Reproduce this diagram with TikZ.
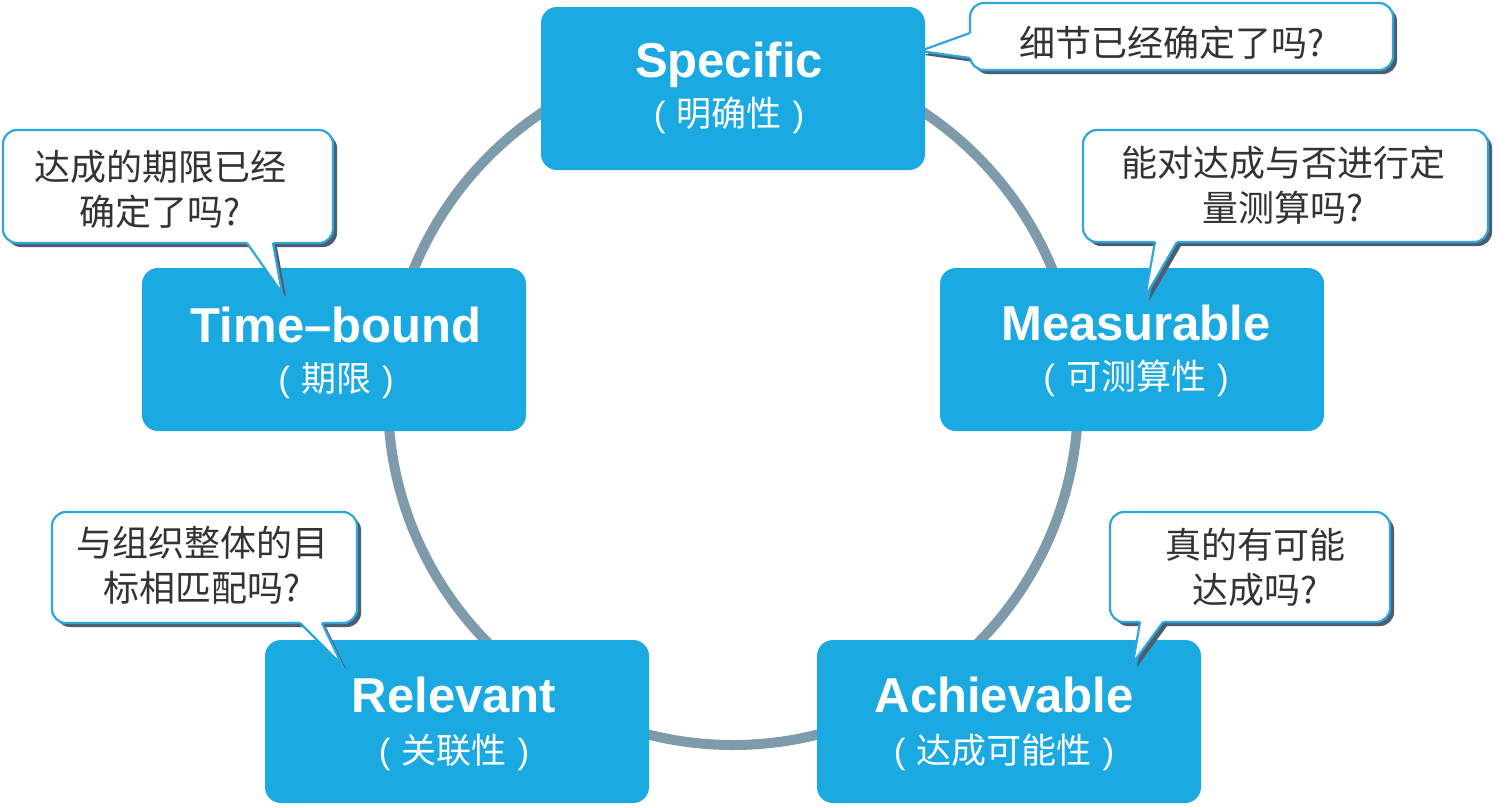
\documentclass[tikz,border=0pt]{standalone}
\usepackage{fontspec}
\setmainfont{Liberation Sans}
\newfontfamily\cjk{Noto Sans CJK SC}
\newfontfamily\lat{Liberation Sans}
\definecolor{boxblue}{HTML}{1BA9E2}
\definecolor{bubbleblue}{HTML}{2FA6DB}
\definecolor{shadowc}{HTML}{4B5D6E}
\definecolor{ringc}{HTML}{7E9BAC}
\definecolor{textgray}{HTML}{333333}
\newcommand{\subtext}[1]{{\lat(}\hspace{11pt}#1\hspace{11pt}{\lat)}}
\tikzset{
  goal/.style={fill=boxblue, rounded corners=16pt, minimum width=384pt, minimum height=163pt, inner sep=0pt},
  bubble/.style={fill=white, draw=bubbleblue, line width=2.2pt, rounded corners=14pt, inner sep=0pt},
  bshadow/.style={fill=shadowc, rounded corners=14pt},
  tailshadow/.style={fill=shadowc},
  tailfill/.style={fill=white},
  tailline/.style={draw=bubbleblue, line width=2.2pt, line join=miter},
  bubbletext/.style={text=textgray, font=\cjk\fontsize{36}{45}\selectfont, align=center, inner sep=0pt},
  ttl/.style={text=white, font=\bfseries\fontsize{49}{56}\selectfont, anchor=base, inner sep=0pt},
  sub/.style={text=white, font=\cjk\fontsize{35}{40}\selectfont, anchor=base, inner sep=0pt},
  ring/.style={draw=ringc, line width=10pt},
}
\begin{document}
\begin{tikzpicture}[x=1pt,y=-1pt]
\useasboundingbox (0,0) rectangle (1506,807);
\fill[white] (0,0) rectangle (1506,807);
% ring
\node[circle, minimum size=690pt, inner sep=0pt, ring] (ringc) at (733,400) {};
% goal boxes
\node[goal] (S) at (733,88.5) {};
\node[goal] (T) at (334,349.5) {};
\node[goal] (M) at (1132,349.5) {};
\node[goal] (R) at (457,721.5) {};
\node[goal] (A) at (1009,721.5) {};
\node[ttl] (St) at (729,77) {Specific};
\node[sub] (Ss) at (729,126) {\subtext{明确性}};
\node[ttl] (Tt) at (336,342) {Time–bound};
\node[sub] (Ts) at (336,391) {\subtext{期限}};
\node[ttl] (Mt) at (1136,340) {Measurable};
\node[sub] (Ms) at (1136,389) {\subtext{可测算性}};
\node[ttl] (Rt) at (454,712) {Relevant};
\node[sub] (Rs) at (454,763) {\subtext{关联性}};
\node[ttl] (At) at (1004,712) {Achievable};
\node[sub] (As) at (1004,763) {\subtext{达成可能性}};

% callout 1 (Specific)
\coordinate (p1a) at (970,33); \coordinate (p1b) at (970,58); \coordinate (p1t) at (920,51);
\fill[tailshadow] (974,37) -- (924,55) -- (974,62) -- cycle;
\fill[bshadow] (974,7) rectangle (1397,74);
\node[bubble, minimum width=423pt, minimum height=67pt] (c1) at (1181.5,36.5) {};
\fill[tailfill] (975,33) -- (p1a) -- (p1t) -- (p1b) -- (975,58) -- cycle;
\draw[tailline] (p1a) -- (p1t) -- (p1b);
\node[bubbletext] (c1t) at (1172,43) {细节已经确定了吗?};

% callout 2 (Time-bound)
\coordinate (p2a) at (247,243); \coordinate (p2b) at (273,243); \coordinate (p2t) at (282,293);
\fill[tailshadow] (251,247) -- (286,297) -- (277,247) -- cycle;
\fill[bshadow] (7,134) rectangle (337,247);
\node[bubble, minimum width=330pt, minimum height=113pt] (c2) at (168,186.5) {};
\fill[tailfill] (247,238) -- (p2a) -- (p2t) -- (p2b) -- (273,238) -- cycle;
\draw[tailline] (p2a) -- (p2t) -- (p2b);
\node[bubbletext] (c2t) at (160,189) {达成的期限已经\\确定了吗?};

% callout 3 (Measurable)
\coordinate (p3a) at (1155,242); \coordinate (p3b) at (1177,242); \coordinate (p3t) at (1145,297);
\fill[tailshadow] (1159,246) -- (1149,301) -- (1181,246) -- cycle;
\fill[bshadow] (1087,134) rectangle (1492,246);
\node[bubble, minimum width=405pt, minimum height=112pt] (c3) at (1285.5,186) {};
\fill[tailfill] (1155,237) -- (p3a) -- (p3t) -- (p3b) -- (1177,237) -- cycle;
\draw[tailline] (p3a) -- (p3t) -- (p3b);
\node[bubbletext] (c3t) at (1283,185) {能对达成与否进行定\\量测算吗?};

% callout 4 (Relevant)
\coordinate (p4a) at (300,623); \coordinate (p4b) at (322,623); \coordinate (p4t) at (342,665);
\fill[tailshadow] (304,627) -- (346,669) -- (326,627) -- cycle;
\fill[bshadow] (56,516) rectangle (361,627);
\node[bubble, minimum width=305pt, minimum height=111pt] (c4) at (204.5,567.5) {};
\fill[tailfill] (300,618) -- (p4a) -- (p4t) -- (p4b) -- (322,618) -- cycle;
\draw[tailline] (p4a) -- (p4t) -- (p4b);
\node[bubbletext] (c4t) at (202,565) {与组织整体的目\\标相匹配吗?};

% callout 5 (Achievable)
\coordinate (p5a) at (1140,622); \coordinate (p5b) at (1163,622); \coordinate (p5t) at (1133,663);
\fill[tailshadow] (1144,626) -- (1137,667) -- (1167,626) -- cycle;
\fill[bshadow] (1114,516) rectangle (1394,626);
\node[bubble, minimum width=280pt, minimum height=110pt] (c5) at (1250,567) {};
\fill[tailfill] (1140,617) -- (p5a) -- (p5t) -- (p5b) -- (1163,617) -- cycle;
\draw[tailline] (p5a) -- (p5t) -- (p5b);
\node[bubbletext] (c5t) at (1255,567) {真的有可能\\达成吗?};
\end{tikzpicture}
\end{document}
